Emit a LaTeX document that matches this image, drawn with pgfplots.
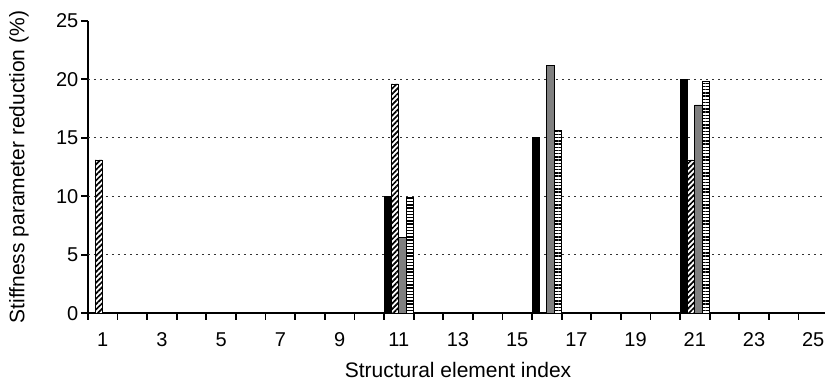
\documentclass[border=0pt]{standalone}
\usepackage{fontspec}
\setmainfont{Liberation Sans}
\usepackage{pgfplots}
\pgfplotsset{compat=1.18}
\usetikzlibrary{patterns.meta}

\begin{document}
\begin{tikzpicture}
\useasboundingbox (-88pt,-70.7pt) rectangle (737pt,313.3pt);
\begin{axis}[
  at={(0pt,0pt)}, anchor=south west,
  scale only axis,
  width=740pt, height=292.6pt,
  xmin=0.5, xmax=25.5, ymin=0, ymax=25,
  axis x line=bottom, axis y line=left,
  axis line style={-, line width=1.8pt, black},
  tick align=outside,
  xtick={1,3,...,25},
  major x tick style={draw=none},
  minor xtick={0.5,1.5,...,25.5},
  minor x tick style={line width=1.8pt, black},
  minor tick length=6.5pt,
  ytick={0,5,...,25},
  major y tick style={line width=1.8pt, black},
  major tick length=6.5pt,
  extra y ticks={5,10,15,20},
  extra y tick labels={},
  extra y tick style={grid=major, major tick length=0pt},
  major grid style={dash pattern=on 1.6pt off 4.4pt, line width=1.3pt, black!80},
  /pgf/number format/assume math mode=true,
  tick label style={font=\fontsize{20}{20}\selectfont},
  xticklabel style={inner sep=0pt, yshift=-13pt},
  yticklabel style={inner sep=0pt, xshift=-3pt},
  xlabel={Structural element index},
  xlabel style={at={(axis description cs:0.5,0)}, anchor=north, inner sep=0pt, yshift=-49pt, font=\fontsize{21}{24}\selectfont},
  ylabel={Stiffness parameter reduction (\%)},
  ylabel style={at={([xshift=-79pt]axis description cs:0,0.5)}, anchor=north, inner sep=0pt, font=\fontsize{21}{24}\selectfont},
]
% Series 1: solid black
\addplot[ybar, bar width=0.25, bar shift=-0.375, fill=black, draw=black, line width=0.8pt]
  coordinates {(11,10) (16,15) (21,20)};
% Series 2: diagonal hatch
\addplot[ybar, bar width=0.25, bar shift=-0.125, draw=black, line width=0.8pt,
  preaction={fill=white}, pattern={Lines[angle=45,distance=3.8pt,line width=1.7pt]}]
  coordinates {(1,13.1) (11,19.6) (21,13.1)};
% Series 3: gray
\addplot[ybar, bar width=0.25, bar shift=0.125, fill=black!50, draw=black, line width=0.8pt]
  coordinates {(11,6.5) (16,21.2) (21,17.8)};
% Series 4: horizontal lines
\addplot[ybar, bar width=0.25, bar shift=0.375, draw=black, line width=0.8pt,
  preaction={fill=white}, pattern={Lines[angle=0,distance=3.2pt,line width=1.4pt]}]
  coordinates {(11,9.9) (16,15.6) (21,19.8)};
\end{axis}
\end{tikzpicture}
\end{document}
